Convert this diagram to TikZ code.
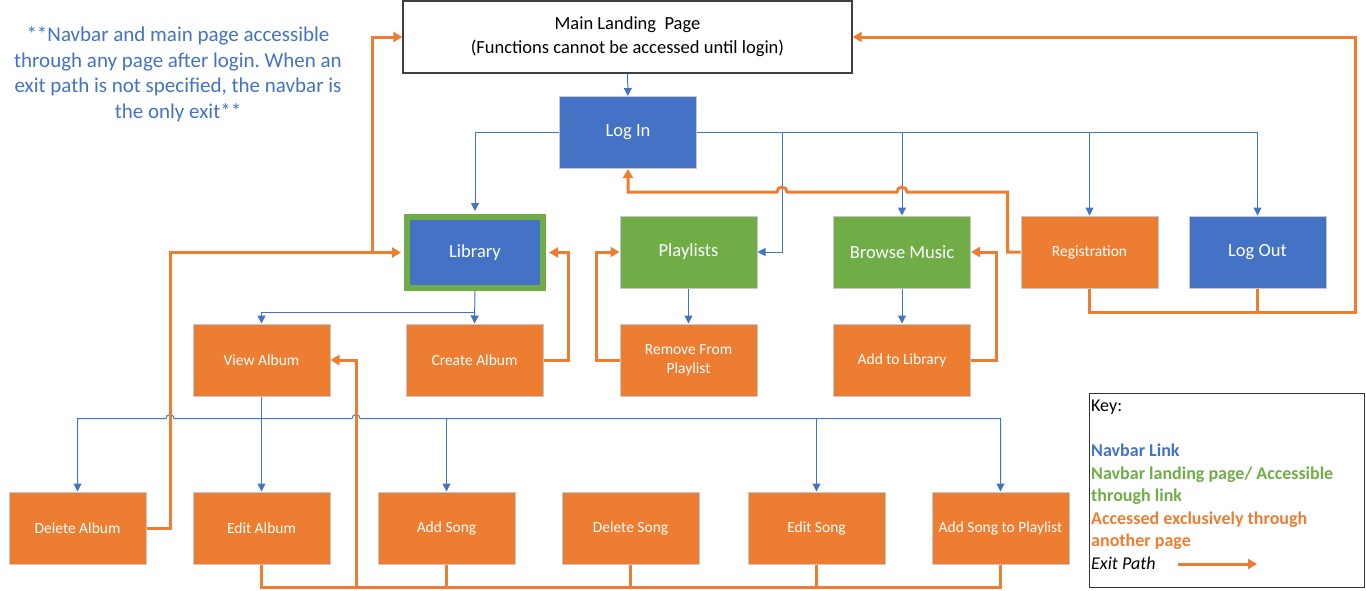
\documentclass[tikz,border=0pt]{standalone}
\usepackage{fontspec}
\setmainfont{Carlito}
\usetikzlibrary{arrows.meta}
\definecolor{navblue}{HTML}{4472C4}
\definecolor{navgreen}{HTML}{70AD47}
\definecolor{exitorange}{HTML}{ED7D31}
\frenchspacing

\begin{document}
\begin{tikzpicture}[x=1pt,y=-1pt]
   \tikzstyle{page} = [draw=black!22, line width=1pt, minimum width=137pt, minimum height=72pt, inner sep=2pt, align=center, text=white]
   \tikzstyle{navpage} = [page, fill=navblue, font=\fontsize{18.5}{22}\selectfont]
   \tikzstyle{landpage} = [page, fill=navgreen, font=\fontsize{18.5}{22}\selectfont]
   \tikzstyle{otherpage} = [page, fill=exitorange, font=\fontsize{15.5}{19}\selectfont]
   \tikzstyle{navline} = [draw, navblue, line width=1pt, -{Triangle[width=8pt,length=8pt]}]
   \tikzstyle{exitline} = [draw, exitorange, line width=3pt, -{Triangle[width=10pt,length=9pt]}]
   \useasboundingbox (0,0) rectangle (1366,590);

   \node (note) at (178,74) [text=navblue, align=center, font=\fontsize{21}{25.5}\selectfont] {**Navbar and main page accessible\\through any page after login. When an\\exit path is not specified, the navbar is\\the only exit**};
   \node (main) at (627.5,37) [draw=black!75, line width=1.3pt, minimum width=449pt, minimum height=72pt, align=center, font=\fontsize{18.5}{24}\selectfont] {Main Landing\ \ Page\\(Functions cannot be accessed until login)};
   \node[navpage] (login) at (628,132.5) {Log In};
   \node[navpage, draw=navgreen, line width=6pt, minimum width=136pt, minimum height=71pt] (library) at (475,252.5) {Library};
   \node[landpage] (playlists) at (688.5,252) {Playlists};
   \node[landpage] (browse) at (902,252) {Browse Music};
   \node[otherpage] (registration) at (1089.5,252) {Registration};
   \node[navpage] (logout) at (1257.5,252) {Log Out};
   \node[otherpage] (viewalbum) at (261.5,360) {View Album};
   \node[otherpage] (createalbum) at (474.5,360) {Create Album};
   \node[otherpage] (removeplaylist) at (688.5,360) {Remove From\\Playlist};
   \node[otherpage] (addlibrary) at (902,360) {Add to Library};
   \node[otherpage] (deletealbum) at (77.5,528) {Delete Album};
   \node[otherpage] (editalbum) at (261.5,528) {Edit Album};
   \node[otherpage] (addsong) at (446.5,528) {Add Song};
   \node[otherpage] (deletesong) at (630.5,528) {Delete Song};
   \node[otherpage] (editsong) at (816.5,528) {Edit Song};
   \node[otherpage] (addtoplaylist) at (1000.5,528) {Add Song to Playlist};

   % navbar links
   \coordinate (plbranch) at (782,132.5);
   \coordinate (libbus) at (475,312);
   \coordinate (albumbus) at (261.5,418.5);
   \path[navline] (main) -- (login);
   \path[navline, shorten >=3pt] (login.west) -| (library.north);
   \path[navline] (login.east) -| (logout.north);
   \path[navline] (login.east) -| (registration.north);
   \path[navline] (login.east) -| (browse.north);
   \path[navline] (plbranch) |- (playlists.east);
   \path[navline] (library.south) -- (createalbum.north);
   \path[navline] (libbus) -| (viewalbum.north);
   \path[navline] (playlists) -- (removeplaylist);
   \path[navline] (browse) -- (addlibrary);
   \path[navline, -] (viewalbum.south) -- (albumbus);
   \path[navline] (albumbus) -- (174,418.5) arc[start angle=0, end angle=180, radius=4pt] -| (deletealbum.north);
   \path[navline] (albumbus) -- (352,418.5) arc[start angle=180, end angle=0, radius=4pt] -| (addtoplaylist.north);
   \path[navline] (albumbus) -- (editalbum.north);
   \path[navline] (addsong.north |- albumbus) -- (addsong.north);
   \path[navline] (editsong.north |- albumbus) -- (editsong.north);

   % exit paths
   \coordinate (libexit) at (170,252.5);
   \coordinate (mainexit) at (372,252.5);
   \coordinate (rightbus) at (1355,312);
   \coordinate (songbus) at (356,587);
   \path[exitline, shorten >=3pt] (deletealbum.east) -| (libexit) -- (library.west);
   \path[exitline] (mainexit) |- (main.west);
   \path[exitline, shorten >=3pt] (createalbum.east) -- ++(25,0) |- (library.east);
   \path[exitline] (removeplaylist.west) -- ++(-23,0) |- (playlists.west);
   \path[exitline] (addlibrary.east) -- ++(25,0) |- (browse.east);
   \path[exitline] (registration.west) -- ++(-13,0) |- (907,192) arc[start angle=0, end angle=180, radius=5pt] -- (787,192) arc[start angle=0, end angle=180, radius=5pt] -| (login.south);
   \path[exitline] (registration.south) |- (rightbus) |- (main.east);
   \path[exitline, -] (logout.south) -- (logout.south |- rightbus);
   \path[exitline] (editalbum.south) |- (songbus) |- (viewalbum.east);
   \path[exitline, -] (addtoplaylist.south) |- (songbus);
   \path[exitline, -] (addsong.south) -- (addsong.south |- songbus);
   \path[exitline, -] (deletesong.south) -- (deletesong.south |- songbus);
   \path[exitline, -] (editsong.south) -- (editsong.south |- songbus);

   % key
   \node[draw=black!80, line width=1pt, minimum width=275pt, minimum height=194pt] (key) at (1226.5,490) {};
   \node[anchor=north west, align=left, inner sep=0pt, font=\fontsize{18}{22.5}\selectfont] (keytext) at (1091,400) {Key:\\[22.5pt]
      \textcolor{navblue}{\textbf{Navbar Link}}\\
      \textcolor{navgreen}{\textbf{Navbar landing page/ Accessible}}\\
      \textcolor{navgreen}{\textbf{through link}}\\
      \textcolor{exitorange}{\textbf{Accessed exclusively through}}\\
      \textcolor{exitorange}{\textbf{another page}}\\
      \textit{Exit Path}};
   \coordinate (keyexita) at (1178,564);
   \coordinate (keyexitb) at (1257,564);
   \path[exitline] (keyexita) -- (keyexitb);
\end{tikzpicture}
\end{document}
